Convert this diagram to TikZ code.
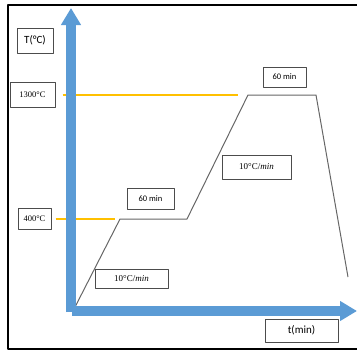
\documentclass[tikz,border=0pt]{standalone}
\usepackage{fontspec}
\setmainfont{Carlito}
\newfontfamily\serifnum{Liberation Serif}
\usetikzlibrary{arrows.meta}
\definecolor{axisblue}{HTML}{5B9BD5}
\definecolor{guide}{HTML}{FFC000}
\begin{document}
\begin{tikzpicture}[x=1pt,y=-1pt,join=round]
    \tikzstyle{lbl} = [draw=black!70,line width=1pt,inner sep=0pt]
    \tikzstyle{axis} = [axisblue,line width=10pt,-{Triangle[length=17pt,width=19pt]}]
    \tikzstyle{curve} = [draw=black!60,line width=1pt]
    \tikzstyle{hline} = [draw=guide,line width=1.8pt]
    \useasboundingbox (0,0) rectangle (357,351);
    % frame, open on the right
    \draw[line width=1.6pt](357,5)--(8,5)--(8,349)--(357,349);
    % labels
    \node[lbl,minimum width=36,minimum height=25,font=\fontsize{11}{12}\selectfont]
        (temp) at (35,40.5) {T(°C)};
    \node[lbl,minimum width=45,minimum height=25,font=\serifnum\fontsize{8.5}{9}\selectfont]
        (t1300) at (32.5,95) {1300°C};
    \node[lbl,minimum width=33,minimum height=21,font=\serifnum\fontsize{8.5}{9}\selectfont]
        (t400) at (34.5,219) {400°C};
    \node[lbl,minimum width=47,minimum height=21,font=\fontsize{8.5}{9}\selectfont]
        (holdlow) at (150.5,198.5) {60 min};
    \node[lbl,minimum width=43,minimum height=20,font=\fontsize{8.5}{9}\selectfont]
        (holdhigh) at (284.5,77) {60 min};
    \node[lbl,minimum width=73,minimum height=19,font=\serifnum\fontsize{9}{10}\selectfont]
        (ratelow) at (131.5,278.5) {10°C/\textit{min}};
    \node[lbl,minimum width=69,minimum height=24,font=\serifnum\fontsize{9}{10}\selectfont]
        (ratehigh) at (256.5,167) {10°C/\textit{min}};
    \node[lbl,minimum width=73,minimum height=23,font=\fontsize{11}{12}\selectfont]
        (time) at (301.5,330.5) {t(min)};
    % heating profile
    \coordinate (start) at (73,311);
    \coordinate (lowA) at (120,219);
    \coordinate (lowB) at (187,219);
    \coordinate (highA) at (248,95);
    \coordinate (highB) at (316,95);
    \coordinate (stop) at (348,277);
    \draw[curve](start)--(lowA)--(lowB)--(highA)--(highB)--(stop);
    % guides to the plateaus, under the axis
    \draw[hline,shorten <=7pt,shorten >=10pt](t1300.east)--(highA);
    \draw[hline,shorten <=4pt,shorten >=5pt](t400.east)--(lowA);
    % axes
    \draw[axis](71,312)--(71,8);
    \draw[axis](72,311)--(357,311);
\end{tikzpicture}
\end{document}
